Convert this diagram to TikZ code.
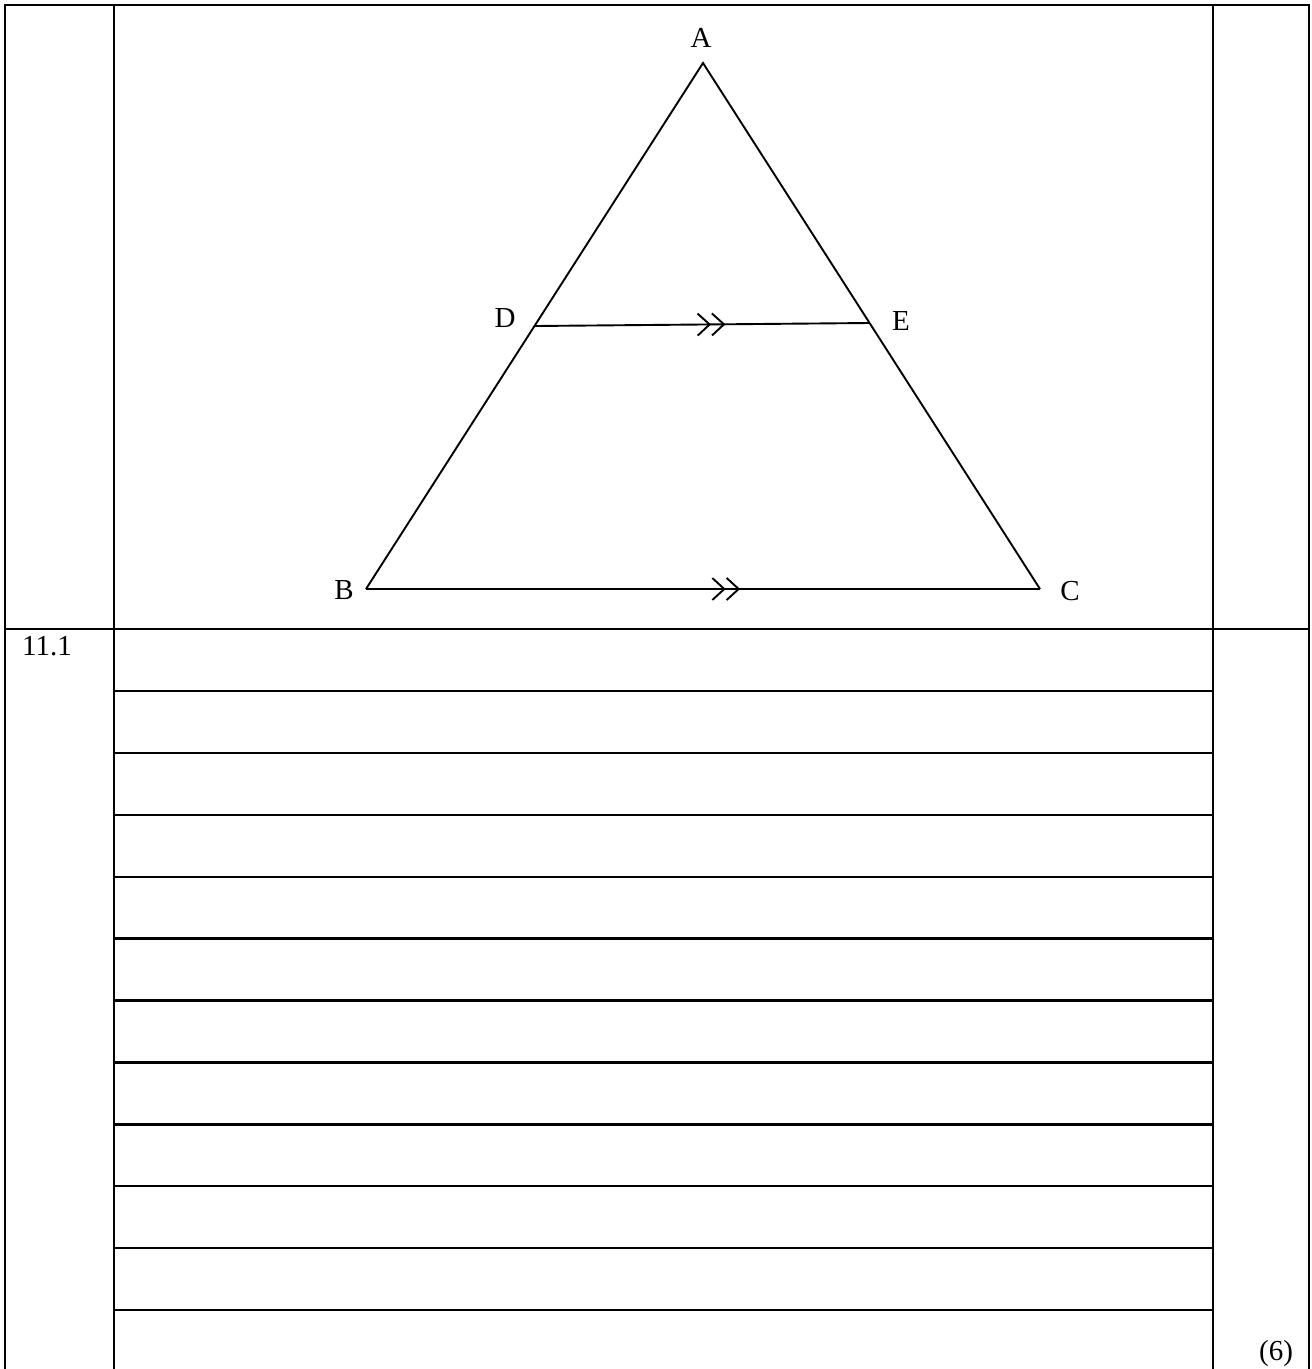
\documentclass[tikz,border=0pt]{standalone}
\usepackage{fontspec}
\setmainfont{Liberation Serif}
\usetikzlibrary{arrows.meta,positioning,decorations.markings}
\tikzstyle{TableRule} =[line width=2.4pt]
\tikzstyle{AnswerLine} =[line width=2.4pt]
\tikzstyle{TriangleSide} =[line width=1.9pt]
\tikzstyle{VertexLabel} =[inner sep=0pt,font=\fontsize{29}{34}\selectfont]
\tikzset{ParallelMark/.style={postaction={decorate},decoration={markings,mark=at position #1 with {\arrow[line width=1.9pt]{Straight Barb[length=12pt,width=22pt]Straight Barb[length=12pt,width=22pt]}}}}}
\begin{document}
\begin{tikzpicture}[x=1pt,y=-1pt]
    \useasboundingbox (0,0) rectangle (1312,1369);

    % table frame
    \draw[TableRule] (5,1369) -- (5,5) -- (1309,5) -- (1309,1369);
    \draw[TableRule] (114,5) -- (114,1369);
    \draw[TableRule] (1213,5) -- (1213,1369);
    \draw[TableRule] (5,629) -- (1309,629);
    \foreach \row in {0,...,10}{
        \draw[AnswerLine] (114,691+61.9*\row) -- (1213,691+61.9*\row);
    }

    % triangle
    \coordinate (A) at (703,63);
    \coordinate (B) at (366,589);
    \coordinate (C) at (1040,589);
    \coordinate (D) at (535,326);
    \coordinate (E) at (869,323);

    \draw[TriangleSide] (B) -- (A) -- (C);
    \draw[TriangleSide,ParallelMark=0.555] (B) -- (C);
    \draw[TriangleSide,ParallelMark=0.57] (D) -- (E);

    \node[VertexLabel](A-Label) at (701,38){A};
    \node[VertexLabel](B-Label) at (344,590){B};
    \node[VertexLabel](C-Label) at (1070,591){C};
    \node[VertexLabel](D-Label) at (505,318){D};
    \node[VertexLabel](E-Label) at (901,321){E};

    \node[VertexLabel](Question-Number) at (47,646){11.1};
    \node[VertexLabel](Marks-Node) at (1276,1354){(6)};
\end{tikzpicture}
\end{document}
